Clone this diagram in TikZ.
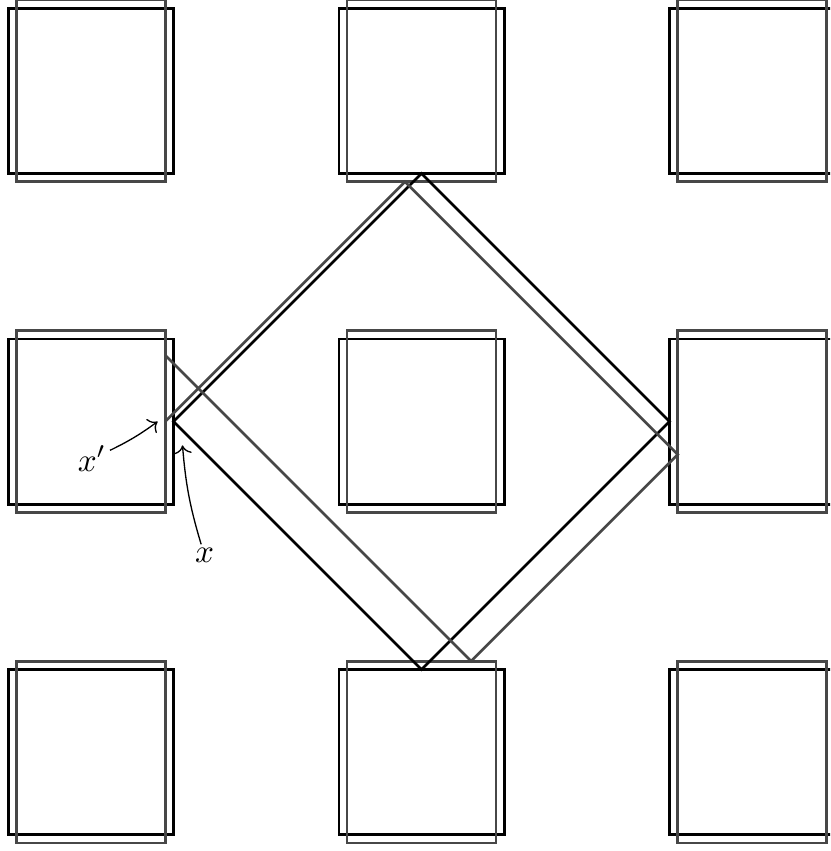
\documentclass[tikz,border=0pt]{standalone}
\usepackage{amsmath}
\usepackage{xcolor}
\usepackage{tikz}
\usetikzlibrary{arrows.meta}
\definecolor{grisx}{HTML}{474747}

\begin{document}
\begin{tikzpicture}[x=3.5cm, y=3.5cm, >=To, lbl/.style={inner sep=1pt}]
  \useasboundingbox (-1.275,-1.299) rectangle (1.2356,1.275);
  \clip (-1.275,-1.299) rectangle (1.2356,1.275);
  \foreach \i in {-1,0,1} \foreach \j in {-1,0,1} {
    \draw[thick] (\i-0.25,\j-0.25) rectangle (\i+0.25,\j+0.25);
    \draw[thick, grisx] (\i-0.225,\j-0.275) rectangle (\i+0.225,\j+0.275);
  }
  \draw[thick] (-0.75,0) -- (0,0.75) -- (0.75,0) -- (0,-0.75) -- cycle;
  \draw[thick, grisx] (-0.775,0) -- (-0.05,0.725) -- (0.775,-0.1) -- (0.15,-0.725) -- (-0.775,0.2);
  \coordinate (xpt) at (-0.798,0);
  \coordinate (xt) at (-0.723,-0.072);
  \node[lbl] (lxp) at (-0.997,-0.112) {$x'$};
  \node[lbl] (lx) at (-0.656,-0.405) {$x$};
  \draw[->] (lxp) to[bend right=5] (xpt);
  \draw[->] (lx) to[bend left=6] (xt);
\end{tikzpicture}
\end{document}
